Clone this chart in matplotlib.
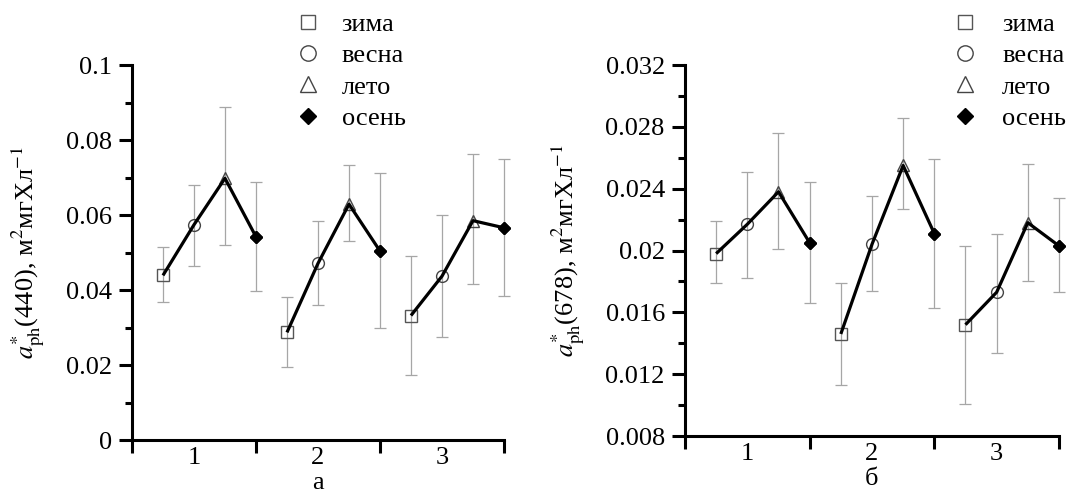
import numpy as np
import matplotlib
matplotlib.use('Agg')
import matplotlib.pyplot as plt
from matplotlib.lines import Line2D
from matplotlib.ticker import MultipleLocator, FixedLocator, FuncFormatter

plt.rcParams['font.family'] = ['Liberation Serif', 'DejaVu Serif']
plt.rcParams['mathtext.fontset'] = 'stix'

groups = [1, 2, 3]
seasons = ['зима', 'весна', 'лето', 'осень']

# a*ph(440): mean, lower and upper bound, per group (зима, весна, лето, осень)
a440_mean = [[0.0439, 0.0574, 0.0698, 0.0542],
             [0.0287, 0.0471, 0.0629, 0.0504],
             [0.0332, 0.0437, 0.0585, 0.0566]]
a440_lo = [[0.0369, 0.0463, 0.0520, 0.0398],
           [0.0194, 0.0360, 0.0531, 0.0298],
           [0.0173, 0.0276, 0.0416, 0.0385]]
a440_hi = [[0.0514, 0.0681, 0.0887, 0.0688],
           [0.0382, 0.0584, 0.0733, 0.0711],
           [0.0492, 0.0599, 0.0763, 0.0750]]

# a*ph(678)
a678_mean = [[0.0198, 0.0217, 0.0238, 0.0205],
             [0.0146, 0.0204, 0.0255, 0.0211],
             [0.0152, 0.0173, 0.0218, 0.0203]]
a678_lo = [[0.0179, 0.0182, 0.0201, 0.0166],
           [0.0113, 0.0174, 0.0227, 0.0163],
           [0.0101, 0.0134, 0.0180, 0.0173]]
a678_hi = [[0.0219, 0.0251, 0.0276, 0.0244],
           [0.0179, 0.0235, 0.0286, 0.0259],
           [0.0203, 0.0211, 0.0256, 0.0234]]

offsets = np.array([-0.25, 0.0, 0.25, 0.5])
mk = [dict(marker='s', ms=8, mfc='none', mec='#555555', mew=1.0),
      dict(marker='o', ms=8.5, mfc='none', mec='#444444', mew=1.0),
      dict(marker='^', ms=9, mfc='none', mec='#444444', mew=1.0),
      dict(marker='D', ms=6.2, mfc='black', mec='black', mew=1.0)]

fig = plt.figure(figsize=(10.66, 4.94), dpi=100)
ax1 = fig.add_axes([0.1238, 0.1093, 0.349, 0.759])
ax2 = fig.add_axes([0.6426, 0.1174, 0.3508, 0.751])


def draw(ax, mean, lo, hi, ylim, major, minor, ylabel, xlabel, lab_x):
    for g in range(3):
        xs = groups[g] + offsets
        m = np.array(mean[g])
        err = [m - np.array(lo[g]), np.array(hi[g]) - m]
        ax.errorbar(xs, m, yerr=err, fmt='none', ecolor='#a6a6a6',
                    elinewidth=0.9, capsize=4.2, capthick=0.9, zorder=1,
                    clip_on=False)
        for s in range(4):
            ax.plot(xs[s], m[s], linestyle='none', zorder=2, clip_on=False, **mk[s])
        ax.plot(xs, m, color='black', lw=2.3, zorder=3, clip_on=False,
                solid_capstyle='butt')
        ax.plot(xs[3], m[3], linestyle='none', zorder=4, clip_on=False, **mk[3])
    ax.set_xlim(0.5, 3.5)
    ax.set_ylim(*ylim)
    for sp in ['top', 'right']:
        ax.spines[sp].set_visible(False)
    for sp in ['left', 'bottom']:
        ax.spines[sp].set_linewidth(2.2)
    ax.yaxis.set_major_locator(MultipleLocator(major))
    ax.yaxis.set_minor_locator(MultipleLocator(minor))
    ax.yaxis.set_major_formatter(FuncFormatter(lambda v, p: '%g' % round(v, 6)))
    ax.xaxis.set_major_locator(FixedLocator([0.5, 1.5, 2.5, 3.5]))
    ax.xaxis.set_major_formatter(FuncFormatter(lambda v, p: ''))
    ax.xaxis.set_minor_locator(FixedLocator(groups))
    ax.xaxis.set_minor_formatter(FuncFormatter(lambda v, p: '%d' % round(v)))
    ax.tick_params(axis='y', which='major', direction='out', length=9.5, width=2.2,
                   labelsize=19, pad=5)
    ax.tick_params(axis='y', which='minor', direction='out', length=5, width=2.2)
    ax.tick_params(axis='x', which='major', direction='out', length=9, width=2.2)
    ax.tick_params(axis='x', which='minor', length=0, labelsize=19, pad=5)
    ax.set_ylabel(ylabel, fontsize=19)
    ax.yaxis.set_label_coords(lab_x, 0.5)
    ax.set_xlabel(xlabel, fontsize=19, labelpad=2)


draw(ax1, a440_mean, a440_lo, a440_hi, (0, 0.1), 0.02, 0.01,
     r'$a^{*}_{\mathrm{ph}}$(440), м$^{2}$мгХл$^{-1}$', 'а', -0.2285)
draw(ax2, a678_mean, a678_lo, a678_hi, (0.008, 0.032), 0.004, 0.002,
     r'$a^{*}_{\mathrm{ph}}$(678), м$^{2}$мгХл$^{-1}$', 'б', -0.263)

handles = [Line2D([], [], linestyle='none', **mk[s]) for s in range(4)]
for x0, pad in [(295 / 1066, 0.77), (952 / 1066, 0.9)]:
    fig.legend(handles, seasons, loc='upper left', bbox_to_anchor=(x0, 0.975),
               frameon=False, fontsize=19, handlelength=1.0, handletextpad=pad,
               labelspacing=0.3, borderpad=0, borderaxespad=0, markerscale=1.3)

fig.savefig('out.png', dpi=100)
